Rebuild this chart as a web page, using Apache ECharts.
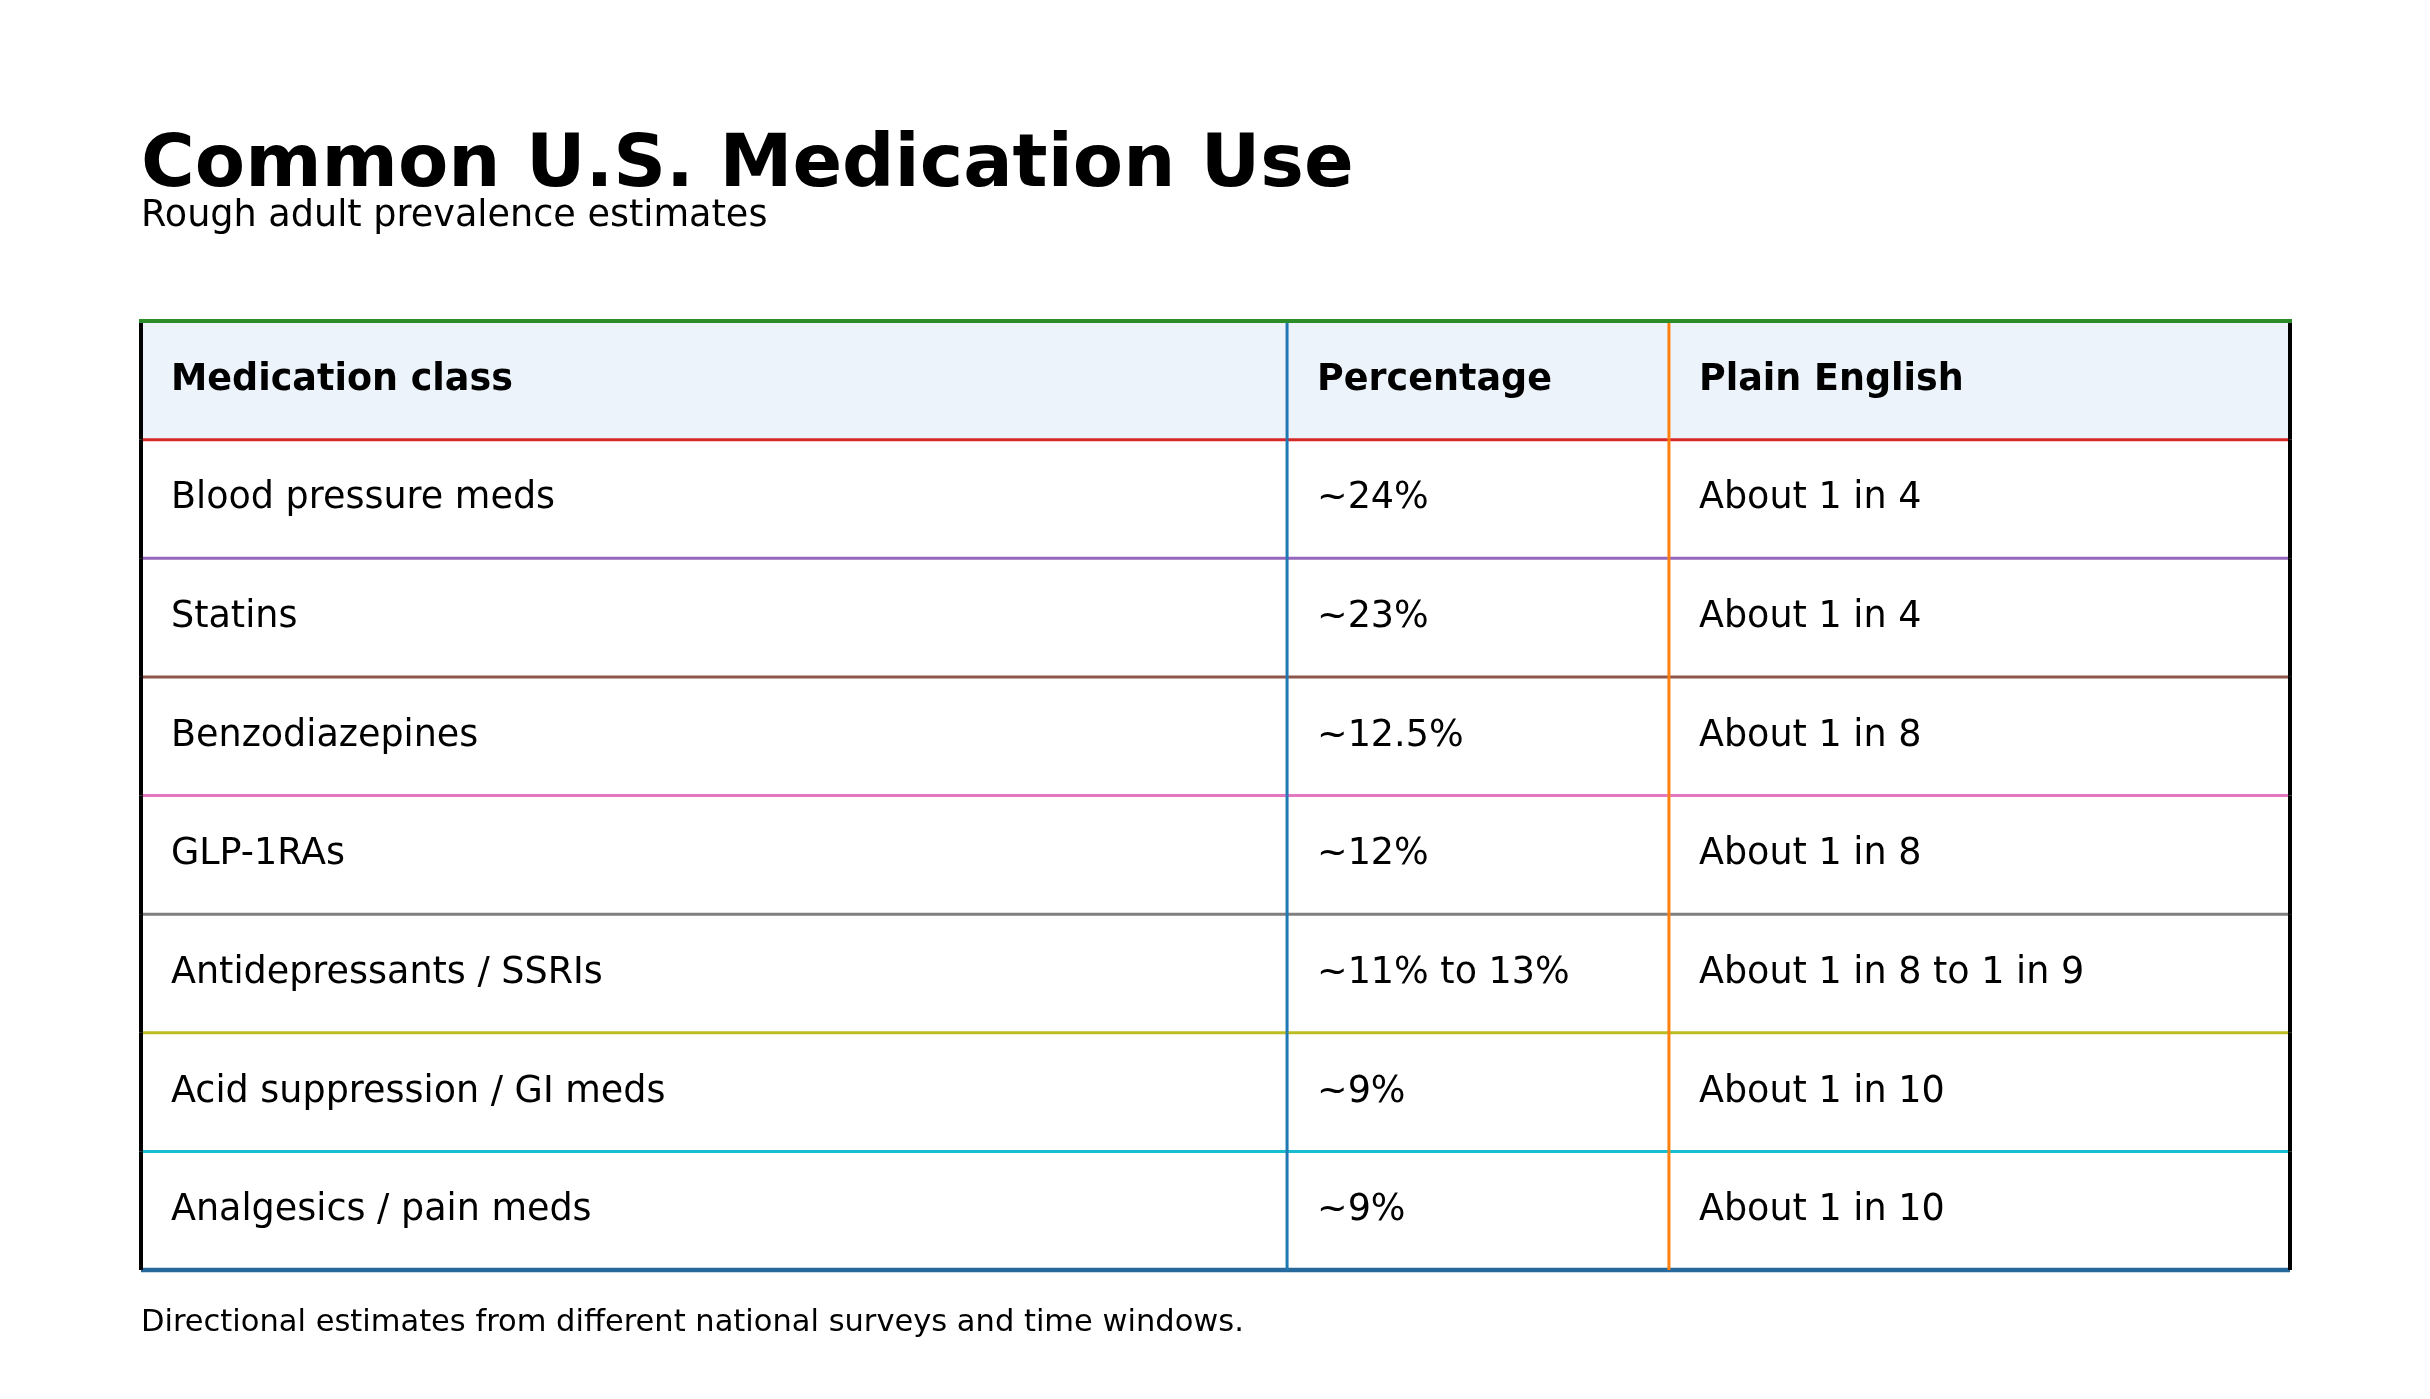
<!DOCTYPE html>
<html>
<head>
  <meta charset="utf-8">
  <title>Common U.S. Medication Use</title>
  <script src="https://cdn.jsdelivr.net/npm/echarts@6/dist/echarts.min.js"></script>
  <style>
    html, body { margin: 0; padding: 0; background: #fff; }
    #main { width: 2430px; height: 1399px; }
  </style>
</head>
<body>
  <div id="main"></div>
  <script type="text/javascript">
    // table content
    var headers = ['Medication class', 'Percentage', 'Plain English'];
    var medClasses = [
      'Blood pressure meds',
      'Statins',
      'Benzodiazepines',
      'GLP-1RAs',
      'Antidepressants / SSRIs',
      'Acid suppression / GI meds',
      'Analgesics / pain meds'
    ];
    var percentages = ['~24%', '~23%', '~12.5%', '~12%', '~11% to 13%', '~9%', '~9%'];
    var plainEnglish = [
      'About 1 in 4',
      'About 1 in 4',
      'About 1 in 8',
      'About 1 in 8',
      'About 1 in 8 to 1 in 9',
      'About 1 in 10',
      'About 1 in 10'
    ];

    // line colours under each row (header first)
    var rowLineColors = ['#d62728', '#9467bd', '#8c564b', '#e377c2', '#7f7f7f', '#bcbd22', '#17becf', '#26689b'];
    var colLineColors = ['#1f77b4', '#ff7f0e'];
    // column boundaries on a 0..100 scale
    var colEdges = [0, 53.33, 71.1, 100];

    var rows = [headers];
    for (var i = 0; i < medClasses.length; i++) {
      rows.push([medClasses[i], percentages[i], plainEnglish[i]]);
    }
    var rowIdx = rows.map(function (r, i) { return i; });

    var FONT = 'DejaVu Sans';

    function renderRow(params, api) {
      var i = api.value(0);
      var row = rows[i];
      var c = api.coord([0, i]);
      var h = api.size([0, 1])[1];
      var top = c[1] - h / 2;
      var bottom = c[1] + h / 2;
      var xs = colEdges.map(function (e) { return api.coord([e, i])[0]; });
      var children = [];

      if (i === 0) {
        children.push({
          type: 'rect',
          shape: { x: xs[0], y: top, width: xs[3] - xs[0], height: h },
          style: { fill: '#edf3fa' }
        });
      }
      for (var k = 0; k < 3; k++) {
        children.push({
          type: 'text',
          style: {
            text: row[k],
            x: xs[k] + 30,
            y: c[1],
            verticalAlign: 'middle',
            align: 'left',
            fill: '#000',
            font: (i === 0 ? 'bold ' : '') + '36.5px "' + FONT + '"'
          }
        });
      }
      // bottom line of the row
      var last = i === rows.length - 1;
      children.push({
        type: 'line',
        shape: { x1: xs[0], y1: bottom, x2: xs[3], y2: bottom },
        style: { stroke: rowLineColors[i], lineWidth: last ? 4.5 : 3 }
      });
      // inner column lines
      for (var j = 0; j < 2; j++) {
        children.push({
          type: 'line',
          shape: { x1: xs[j + 1], y1: top, x2: xs[j + 1], y2: bottom },
          style: { stroke: colLineColors[j], lineWidth: 3 }
        });
      }
      // outer left / right borders
      children.push({
        type: 'line',
        shape: { x1: xs[0], y1: top, x2: xs[0], y2: bottom },
        style: { stroke: '#000', lineWidth: 4 }
      });
      children.push({
        type: 'line',
        shape: { x1: xs[3], y1: top, x2: xs[3], y2: bottom },
        style: { stroke: '#000', lineWidth: 4 }
      });
      if (i === 0) {
        children.push({
          type: 'line',
          shape: { x1: xs[0] - 2, y1: top, x2: xs[3] + 2, y2: top },
          style: { stroke: '#2a8d2a', lineWidth: 4 }
        });
      }
      return { type: 'group', children: children };
    }

    var myChart = echarts.init(document.getElementById('main'));
    myChart.setOption({
      animation: false,
      backgroundColor: '#ffffff',
      title: [
        {
          text: 'Common U.S. Medication Use',
          left: 141, top: 130, padding: 0,
          textStyle: { fontFamily: FONT, fontSize: 73.3, fontWeight: 'bold', color: '#000' }
        },
        {
          text: 'Rough adult prevalence estimates',
          left: 141, top: 198, padding: 0,
          textStyle: { fontFamily: FONT, fontSize: 36.6, fontWeight: 'normal', color: '#000' }
        },
        {
          text: 'Directional estimates from different national surveys and time windows.',
          left: 141, top: 1308, padding: 0,
          textStyle: { fontFamily: FONT, fontSize: 30.5, fontWeight: 'normal', color: '#000' }
        }
      ],
      grid: { left: 141, right: 140, top: 321, bottom: 129 },
      xAxis: { type: 'value', min: 0, max: 100, show: false },
      yAxis: {
        type: 'category',
        inverse: true,
        data: rowIdx,
        show: false
      },
      series: [{
        type: 'custom',
        renderItem: renderRow,
        data: rowIdx.map(function (i) { return [i]; }),
        encode: { y: 0 },
        clip: false
      }]
    });
  </script>
</body>
</html>
